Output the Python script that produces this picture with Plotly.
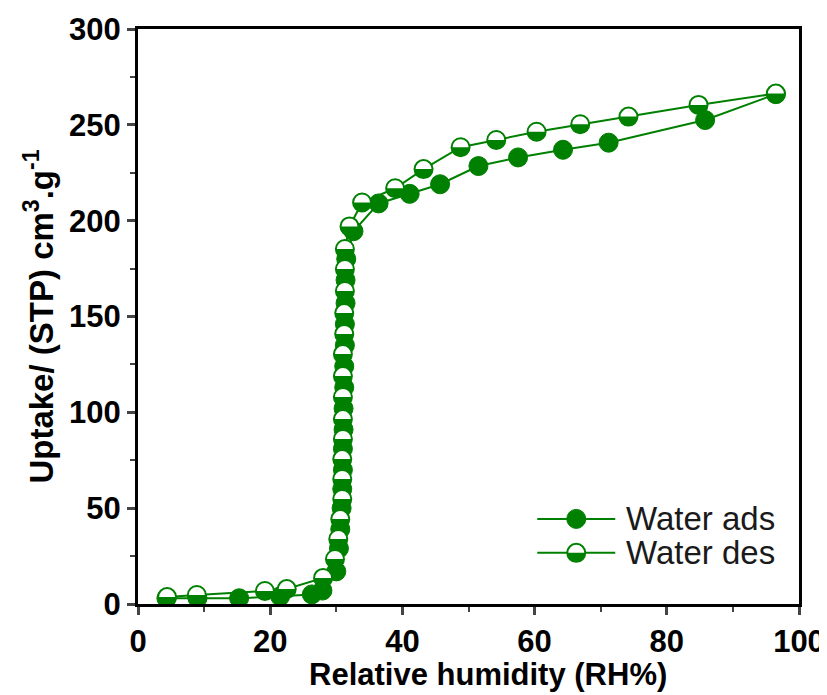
import plotly.graph_objects as go

# Adsorption (filled markers)
ads_x = [4.3, 9.0, 15.3, 21.5, 26.3, 27.9, 30.0, 30.4, 30.6, 30.8, 30.9, 31.0, 31.0, 31.1,
         31.1, 31.2, 31.2, 31.3, 31.3, 31.4, 31.4, 31.5, 32.6, 36.4, 41.1, 45.7, 51.5, 57.5,
         64.3, 71.2, 85.8, 96.5]
ads_y = [3, 3, 3, 4, 5, 7, 17, 29, 39, 50, 60, 70, 81, 91, 102, 113, 124, 135, 146, 157,
         169, 180, 194.5, 209, 214, 219, 228.5, 233, 237, 240.7, 252.5, 266]

# Desorption (half-filled markers)
des_x = [96.5, 84.8, 74.2, 66.9, 60.3, 54.2, 48.8, 43.2, 38.9, 33.9, 32.0, 31.3, 31.3, 31.3,
         31.2, 31.2, 31.0, 31.0, 31.0, 31.0, 31.0, 30.9, 30.9, 30.9, 30.6, 30.3, 29.8, 28.0,
         22.5, 19.2, 8.9, 4.4]
des_y = [266.3, 260.4, 254.3, 250.3, 246.4, 242.1, 238.3, 226.9, 216.9, 209.5, 197, 185.2,
         174.8, 163.3, 151.8, 140.9, 130.4, 118.9, 108.0, 96.5, 86.1, 75.6, 65.2, 54.8, 44.3,
         33.9, 23.5, 13.6, 7.8, 6.8, 4.7, 3.6]

series_names = ["Water ads", "Water des"]
x_ticks = [0, 20, 40, 60, 80, 100]
y_ticks = [0, 50, 100, 150, 200, 250, 300]
x_title = "Relative humidity (RH%)"
y_title = "Uptake/ (STP) cm<sup>3</sup>.g<sup>-1</sup>"

GREEN = "#008000"
FONT = "Liberation Sans, Arial, sans-serif"

fig = go.Figure()
fig.add_trace(go.Scatter(
    x=ads_x, y=ads_y, mode="lines+markers", name=series_names[0], showlegend=False,
    line=dict(color=GREEN, width=2),
    marker=dict(symbol="circle", size=19, color=GREEN, line=dict(color=GREEN, width=1)),
))
fig.add_trace(go.Scatter(
    x=des_x, y=des_y, mode="lines+markers", name=series_names[1], showlegend=False,
    line=dict(color=GREEN, width=2),
    marker=dict(symbol="circle", size=18, color="white", line=dict(color=GREEN, width=2)),
))

def half_path(r):
    k = 0.5523 * r
    return (f"M{-r},0 C{-r},{-k} {-k},{-r} 0,{-r} C{k},{-r} {r},{-k} {r},0 Z")

HALF = half_path(9.2)
for xv, yv in zip(des_x, des_y):
    fig.add_shape(type="path", xref="x", yref="y", xsizemode="pixel", ysizemode="pixel",
                  xanchor=xv, yanchor=yv, path=HALF, fillcolor=GREEN,
                  line=dict(width=0), layer="above")

# Legend (drawn inside the plot, lower right)
leg_rows = [0.148, 0.089]
leg_line = (0.604, 0.722)
leg_mark = 0.663
leg_text = 0.735
for i, (name, yy) in enumerate(zip(series_names, leg_rows)):
    fig.add_shape(type="line", xref="paper", yref="paper", x0=leg_line[0], x1=leg_line[1],
                  y0=yy, y1=yy, line=dict(color=GREEN, width=2), layer="above")
    if i == 0:
        fig.add_shape(type="circle", xref="paper", yref="paper", xsizemode="pixel",
                      ysizemode="pixel", xanchor=leg_mark, yanchor=yy,
                      x0=-9.5, x1=9.5, y0=-9.5, y1=9.5, fillcolor=GREEN,
                      line=dict(color=GREEN, width=1), layer="above")
    else:
        fig.add_shape(type="circle", xref="paper", yref="paper", xsizemode="pixel",
                      ysizemode="pixel", xanchor=leg_mark, yanchor=yy,
                      x0=-9, x1=9, y0=-9, y1=9, fillcolor="white",
                      line=dict(color=GREEN, width=2), layer="above")
        fig.add_shape(type="path", xref="paper", yref="paper", xsizemode="pixel",
                      ysizemode="pixel", xanchor=leg_mark, yanchor=yy, path=HALF,
                      fillcolor=GREEN, line=dict(width=0), layer="above")
    fig.add_annotation(x=leg_text, y=yy, xref="paper", yref="paper", text=name,
                       showarrow=False, xanchor="left", yanchor="middle",
                       font=dict(size=33, family=FONT, color="#1a1a1a"))

# x-axis title (placed slightly right of centre, as in the original)
fig.add_annotation(x=0.529, y=0, xref="paper", yref="paper", text=x_title,
                   showarrow=False, xanchor="center", yanchor="top", yshift=-51,
                   font=dict(size=31, family=FONT, color="black", weight="bold"))

fig.update_layout(
    width=819, height=687,
    margin=dict(l=130, r=28, t=21, b=91),
    paper_bgcolor="white", plot_bgcolor="white",
    font=dict(family=FONT, color="black"),
    showlegend=False,
)
fig.update_xaxes(
    range=[0, 100], tickvals=x_ticks, ticks="outside", ticklen=8, tickwidth=3,
    linecolor="black", linewidth=3, mirror=True, showgrid=False, zeroline=False,
    automargin=False,
    minor=dict(ticks="outside", ticklen=5, tickwidth=2, dtick=10, tick0=0),
    tickfont=dict(size=31, family=FONT, weight="bold"),
)
fig.update_yaxes(
    range=[0, 300], tickvals=y_ticks, ticks="outside", ticklen=8, tickwidth=3,
    linecolor="black", linewidth=3, mirror=True, showgrid=False, zeroline=False,
    automargin=False,
    minor=dict(ticks="outside", ticklen=5, tickwidth=2, dtick=25, tick0=0),
    tickfont=dict(size=31, family=FONT, weight="bold"),
    title=dict(text=y_title, font=dict(size=33, family=FONT, weight="bold"), standoff=6),
)

fig.write_html("out.html")
